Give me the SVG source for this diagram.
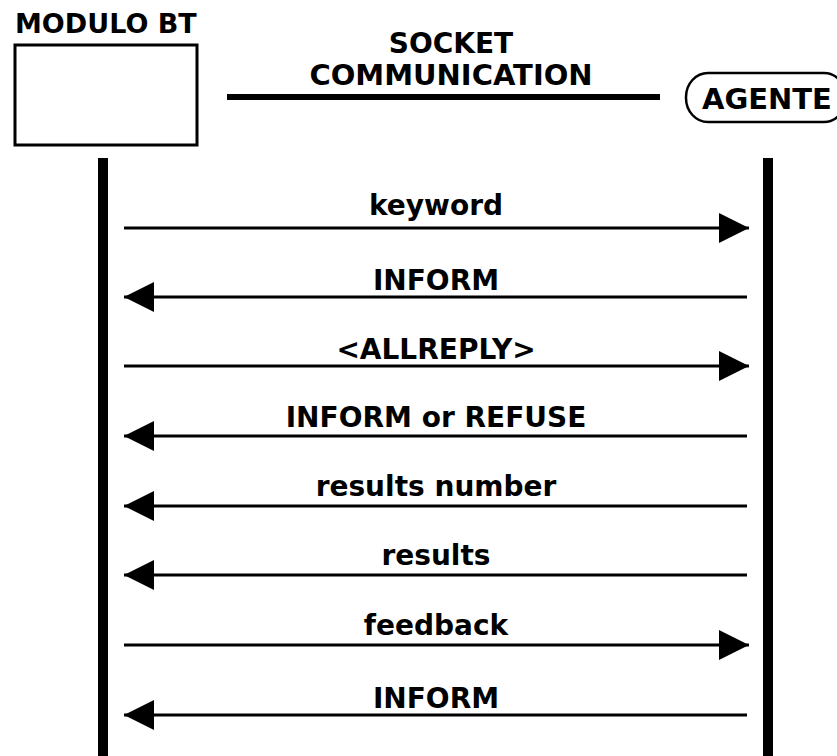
<svg xmlns="http://www.w3.org/2000/svg" width="837" height="756" viewBox="0 0 837 756">
  <style>
    .t { font-family: "DejaVu Sans", Verdana, sans-serif; font-weight: bold; fill: #000; }
    .lbl { font-size: 28px; text-anchor: middle; }
    .msg { stroke: #000; stroke-width: 3; fill: none; }
    .life { stroke: #000; stroke-width: 10; }
  </style>
  <defs>
    <marker id="head" markerUnits="userSpaceOnUse" markerWidth="30" markerHeight="30" refX="30" refY="15" orient="auto">
      <path d="M0,0 L30,15 L0,30 Z" fill="#000"/>
    </marker>
  </defs>

  <g id="modulo-bt">
    <text class="t" x="15" y="33" font-size="27">MODULO BT</text>
    <rect x="15" y="45" width="182" height="100" fill="#fff" stroke="#000" stroke-width="3"/>
    <line class="life" x1="103" y1="158" x2="103" y2="756"/>
  </g>

  <g id="socket-link">
    <text class="t" x="451" y="53" font-size="28" text-anchor="middle">SOCKET</text>
    <text class="t" x="451" y="85" font-size="29" text-anchor="middle">COMMUNICATION</text>
    <line x1="227" y1="97" x2="660" y2="97" stroke="#000" stroke-width="6"/>
  </g>

  <g id="agente">
    <rect x="686" y="73" width="160" height="49" rx="22" ry="24" fill="#fff" stroke="#000" stroke-width="2.5"/>
    <text class="t" x="702" y="109" font-size="29">AGENTE</text>
    <line class="life" x1="768" y1="158" x2="768" y2="756"/>
  </g>

  <g id="messages">
    <line class="msg" x1="124" y1="228" x2="749" y2="228" marker-end="url(#head)"/>
    <text class="t lbl" x="436" y="215">keyword</text>

    <line class="msg" x1="747" y1="297" x2="124" y2="297" marker-end="url(#head)"/>
    <text class="t lbl" x="436" y="290">INFORM</text>

    <line class="msg" x1="124" y1="366" x2="749" y2="366" marker-end="url(#head)"/>
    <text class="t lbl" x="436" y="359">&lt;ALLREPLY&gt;</text>

    <line class="msg" x1="747" y1="436" x2="124" y2="436" marker-end="url(#head)"/>
    <text class="t lbl" x="436" y="427">INFORM or REFUSE</text>

    <line class="msg" x1="747" y1="506" x2="124" y2="506" marker-end="url(#head)"/>
    <text class="t lbl" x="436" y="496">results number</text>

    <line class="msg" x1="747" y1="575" x2="124" y2="575" marker-end="url(#head)"/>
    <text class="t lbl" x="436" y="565">results</text>

    <line class="msg" x1="124" y1="645" x2="749" y2="645" marker-end="url(#head)"/>
    <text class="t lbl" x="436" y="635">feedback</text>

    <line class="msg" x1="747" y1="715" x2="124" y2="715" marker-end="url(#head)"/>
    <text class="t lbl" x="436" y="708">INFORM</text>
  </g>
</svg>
